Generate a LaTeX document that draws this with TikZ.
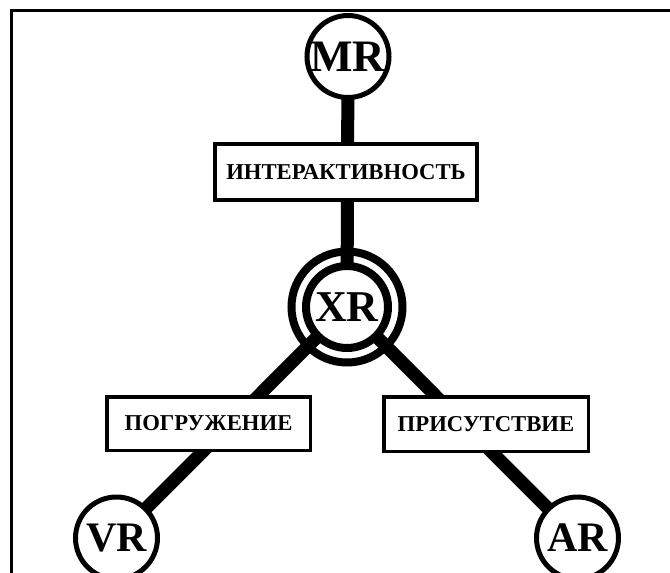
\documentclass[tikz,border=0pt]{standalone}
\usepackage{fontspec}
\setmainfont{Liberation Serif}
\usetikzlibrary{backgrounds}
\tikzset{
  ring/.style={circle, draw, line width=5pt, fill=white, inner sep=0pt, minimum size=82pt, font=\bfseries\fontsize{42}{42}\selectfont},
  labelbox/.style={rectangle, draw, fill=white, inner sep=0pt, font=\bfseries\fontsize{22.7}{22.7}\selectfont},
  conn/.style={line width=13pt},
}
\begin{document}
\begin{tikzpicture}[x=1pt,y=-1pt]
\useasboundingbox (0,0) rectangle (670,573);
% frame
\draw[line width=3pt] (11.5,573) -- (11.5,10.5) -- (670,10.5);
% nodes
\node[circle, draw, line width=8pt, inner sep=0pt, minimum size=111pt] (xrout) at (347,307) {};
\node[circle, draw, line width=8pt, fill=white, inner sep=0pt, minimum size=82pt, font=\bfseries\fontsize{44}{44}\selectfont] (xr) at (347,307) {XR};
\node[ring, font=\bfseries\fontsize{45}{45}\selectfont] (mr) at (348,56.5) {MR};
\node[ring] (vr) at (116.5,538) {VR};
\node[ring] (ar) at (577.5,538) {AR};
\node[labelbox, line width=4pt, minimum width=262pt, minimum height=56pt] (inter) at (346,172) {ИНТЕРАКТИВНОСТЬ};
\node[labelbox, line width=3.5pt, minimum width=203.5pt, minimum height=53.5pt] (pogr) at (208.5,423.5) {ПОГРУЖЕНИЕ};
\node[labelbox, line width=3.5pt, minimum width=204.5pt, minimum height=54.5pt] (pris) at (486,424) {ПРИСУТСТВИЕ};
% connectors
\begin{scope}[on background layer]
\draw[conn] (mr.center) -- (xr.center);
\draw[conn] (xr.center) -- (vr.center);
\draw[conn] (xr.center) -- (ar.center);
\end{scope}
\end{tikzpicture}
\end{document}
